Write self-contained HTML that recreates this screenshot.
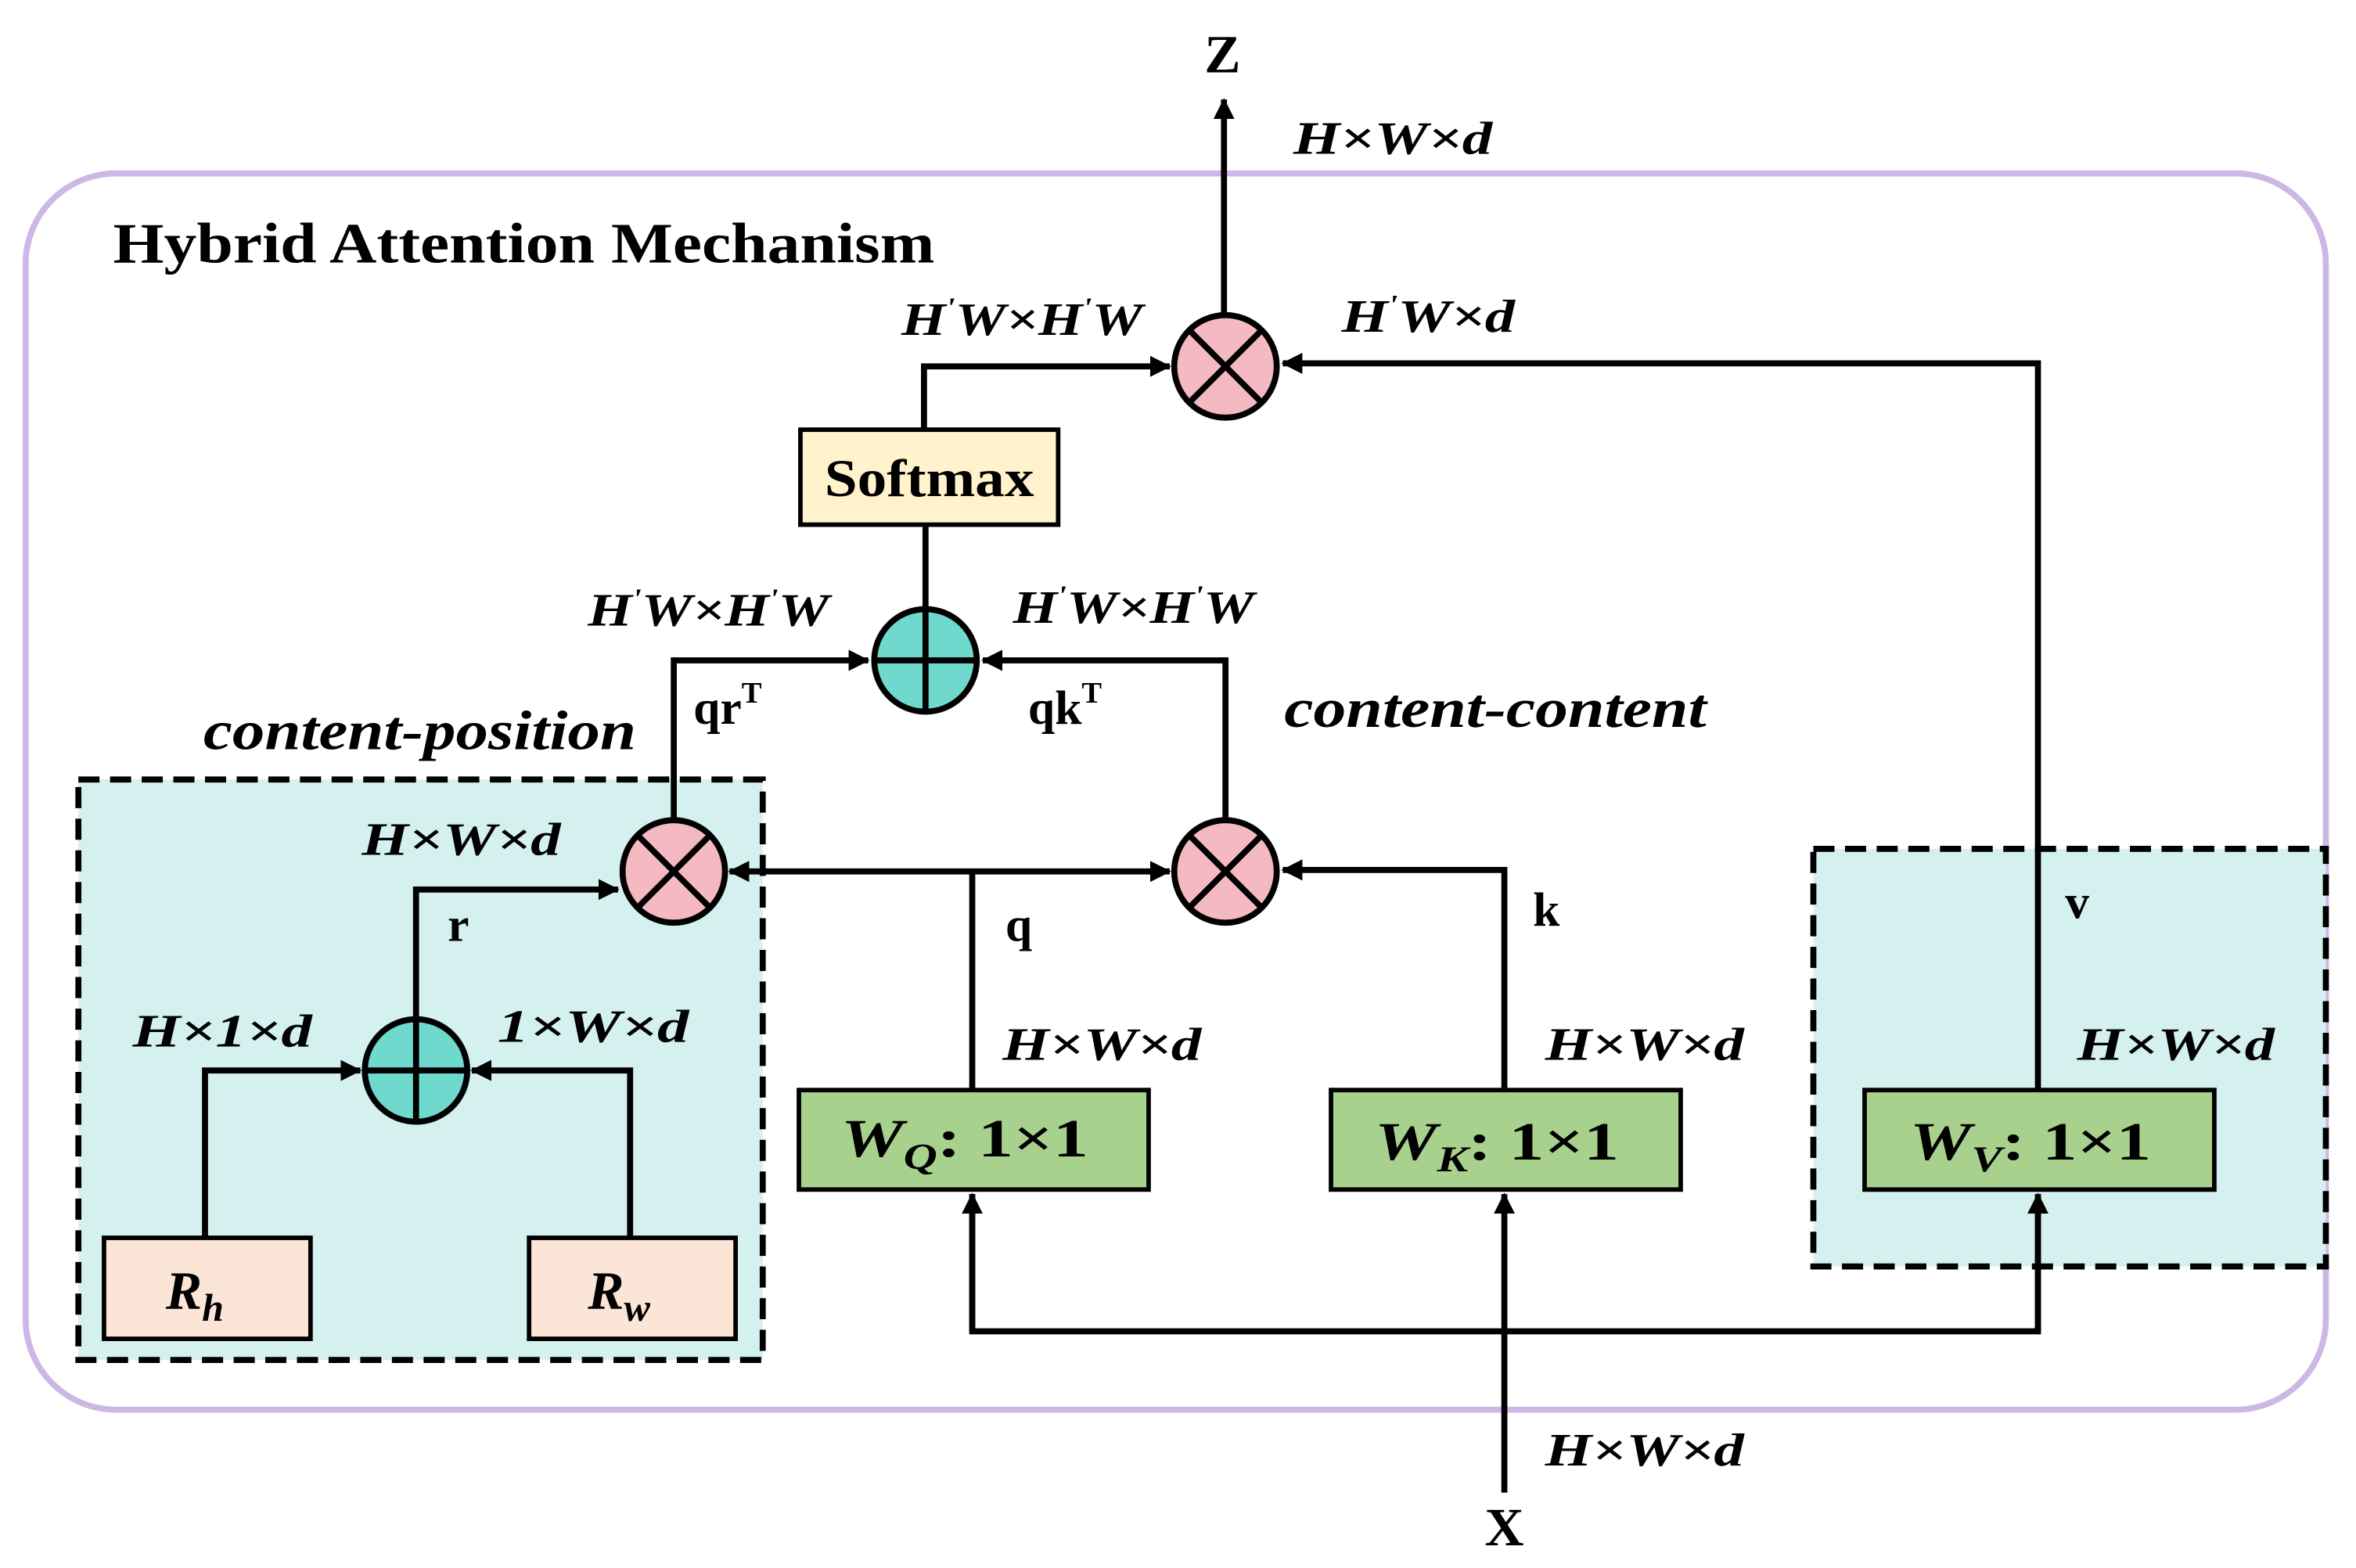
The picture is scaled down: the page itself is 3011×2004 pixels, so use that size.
<!DOCTYPE html>
<html><head><meta charset="utf-8"><style>
html,body{margin:0;padding:0;background:#fff;}
svg{display:block;}
text{font-family:"Liberation Serif",serif;font-weight:bold;fill:#000;}
.m{font-style:italic;font-size:31px;}
</style></head><body>
<svg width="3011" height="2004" viewBox="0 0 1563 1040" preserveAspectRatio="none" xmlns="http://www.w3.org/2000/svg">
<defs>
<marker id="b" markerWidth="14" markerHeight="14" refX="13" refY="7" orient="auto" markerUnits="userSpaceOnUse">
<path d="M0,0 L14,7 L0,14 z" fill="#000"/></marker>
</defs>
<rect x="17" y="115" width="1526" height="820" rx="60" fill="#fff" stroke="#cdb7e4" stroke-width="4"/>
<text x="75" y="174" font-size="38" textLength="545" lengthAdjust="spacingAndGlyphs">Hybrid Attention Mechanism</text>
<rect x="52" y="517" width="454" height="385" fill="#d4f1ef" stroke="#000" stroke-width="4" stroke-dasharray="14,7"/>
<rect x="1203" y="563" width="340" height="277" fill="#d4f1ef" stroke="#000" stroke-width="4" stroke-dasharray="14,7"/>
<g stroke="#000" stroke-width="4" fill="none">
<line x1="812" y1="209" x2="812" y2="66" marker-end="url(#b)"/>
<polyline points="613,285 613,243 776,243" marker-end="url(#b)"/>
<polyline points="1352,723 1352,241 851,241" marker-end="url(#b)"/>
<line x1="614" y1="404" x2="614" y2="348"/>
<polyline points="447,544 447,438 576,438" marker-end="url(#b)"/>
<polyline points="813,544 813,438 652,438" marker-end="url(#b)"/>
<line x1="645" y1="723" x2="645" y2="578"/>
<line x1="645" y1="578" x2="484" y2="578" marker-end="url(#b)"/>
<line x1="645" y1="578" x2="776" y2="578" marker-end="url(#b)"/>
<polyline points="998,723 998,577 851,577" marker-end="url(#b)"/>
<line x1="998" y1="990" x2="998" y2="792" marker-end="url(#b)"/>
<polyline points="645,792 645,883 1352,883 1352,792"/>
<line x1="645" y1="883" x2="645" y2="792" marker-end="url(#b)"/>
<line x1="1352" y1="883" x2="1352" y2="792" marker-end="url(#b)"/>
<polyline points="276,676 276,590 410,590" marker-end="url(#b)"/>
<polyline points="136,821 136,710 239,710" marker-end="url(#b)"/>
<polyline points="418,821 418,710 313,710" marker-end="url(#b)"/>
</g>
<g stroke="#000" stroke-width="4">
<circle cx="813" cy="243" r="34" fill="#f4b9c1"/>
<line x1="789" y1="219" x2="837" y2="267"/><line x1="837" y1="219" x2="789" y2="267"/>
<circle cx="447" cy="578" r="34" fill="#f4b9c1"/>
<line x1="423" y1="554" x2="471" y2="602"/><line x1="471" y1="554" x2="423" y2="602"/>
<circle cx="813" cy="578" r="34" fill="#f4b9c1"/>
<line x1="789" y1="554" x2="837" y2="602"/><line x1="837" y1="554" x2="789" y2="602"/>
<circle cx="614" cy="438" r="34" fill="#6fd9cd"/>
<line x1="580" y1="438" x2="648" y2="438"/><line x1="614" y1="404" x2="614" y2="472"/>
<circle cx="276" cy="710" r="34" fill="#6fd9cd"/>
<line x1="242" y1="710" x2="310" y2="710"/><line x1="276" y1="676" x2="276" y2="744"/>
</g>
<g stroke="#000" stroke-width="3">
<rect x="531" y="285" width="171" height="63" fill="#fff2cc"/>
<rect x="530" y="723" width="232" height="66" fill="#a9d18e"/>
<rect x="883" y="723" width="232" height="66" fill="#a9d18e"/>
<rect x="1237" y="723" width="232" height="66" fill="#a9d18e"/>
<rect x="69" y="821" width="137" height="67" fill="#fbe5d6"/>
<rect x="351" y="821" width="137" height="67" fill="#fbe5d6"/>
</g>
<text x="547" y="329" font-size="35" textLength="139" lengthAdjust="spacingAndGlyphs">Softmax</text>
<text x="558" y="767" font-size="36" textLength="164" lengthAdjust="spacingAndGlyphs"><tspan font-style="italic">W</tspan><tspan font-style="italic" font-size="24" dy="8">Q</tspan><tspan dy="-8">: 1×1</tspan></text>
<text x="912" y="769" font-size="36" textLength="162" lengthAdjust="spacingAndGlyphs"><tspan font-style="italic">W</tspan><tspan font-style="italic" font-size="24" dy="8">K</tspan><tspan dy="-8">: 1×1</tspan></text>
<text x="1267" y="769" font-size="36" textLength="160" lengthAdjust="spacingAndGlyphs"><tspan font-style="italic">W</tspan><tspan font-style="italic" font-size="24" dy="8">V</tspan><tspan dy="-8">: 1×1</tspan></text>
<text x="110" y="868" font-size="36" font-style="italic">R<tspan font-size="26" dy="8">h</tspan></text>
<text x="390" y="868" font-size="36" font-style="italic">R<tspan font-size="26" dy="8">w</tspan></text>
<text x="799" y="48" font-size="36">Z</text>
<text x="985" y="1025" font-size="36">X</text>
<text class="m" x="858" y="102" textLength="132" lengthAdjust="spacingAndGlyphs">H×W×d</text>
<text class="m" x="598" y="222" textLength="160" lengthAdjust="spacingAndGlyphs">H<tspan font-size="18" dy="-12">'</tspan><tspan dy="12">W×H</tspan><tspan font-size="18" dy="-12">'</tspan><tspan dy="12">W</tspan></text>
<text class="m" x="890" y="220" textLength="115" lengthAdjust="spacingAndGlyphs">H<tspan font-size="18" dy="-12">'</tspan><tspan dy="12">W×d</tspan></text>
<text class="m" x="390" y="415" textLength="160" lengthAdjust="spacingAndGlyphs">H<tspan font-size="18" dy="-12">'</tspan><tspan dy="12">W×H</tspan><tspan font-size="18" dy="-12">'</tspan><tspan dy="12">W</tspan></text>
<text class="m" x="672" y="413" textLength="160" lengthAdjust="spacingAndGlyphs">H<tspan font-size="18" dy="-12">'</tspan><tspan dy="12">W×H</tspan><tspan font-size="18" dy="-12">'</tspan><tspan dy="12">W</tspan></text>
<text x="460" y="480" font-size="32">qr<tspan font-size="20" dy="-14">T</tspan></text>
<text x="682" y="480" font-size="32">qk<tspan font-size="20" dy="-14">T</tspan></text>
<text x="135" y="497" font-size="37" font-style="italic" textLength="287" lengthAdjust="spacingAndGlyphs">content-position</text>
<text x="852" y="482" font-size="37" font-style="italic" textLength="280" lengthAdjust="spacingAndGlyphs">content-content</text>
<text class="m" x="240" y="567" textLength="132" lengthAdjust="spacingAndGlyphs">H×W×d</text>
<text x="297" y="624" font-size="32">r</text>
<text x="667" y="624" font-size="32">q</text>
<text x="1017" y="614" font-size="32">k</text>
<text x="1370" y="609" font-size="32">v</text>
<text class="m" x="665" y="703" textLength="132" lengthAdjust="spacingAndGlyphs">H×W×d</text>
<text class="m" x="1025" y="703" textLength="132" lengthAdjust="spacingAndGlyphs">H×W×d</text>
<text class="m" x="1378" y="703" textLength="131" lengthAdjust="spacingAndGlyphs">H×W×d</text>
<text class="m" x="88" y="694" textLength="119" lengthAdjust="spacingAndGlyphs">H×1×d</text>
<text class="m" x="330" y="691" textLength="127" lengthAdjust="spacingAndGlyphs">1×W×d</text>
<text class="m" x="1025" y="972" textLength="132" lengthAdjust="spacingAndGlyphs">H×W×d</text>
</svg>
</body></html>
